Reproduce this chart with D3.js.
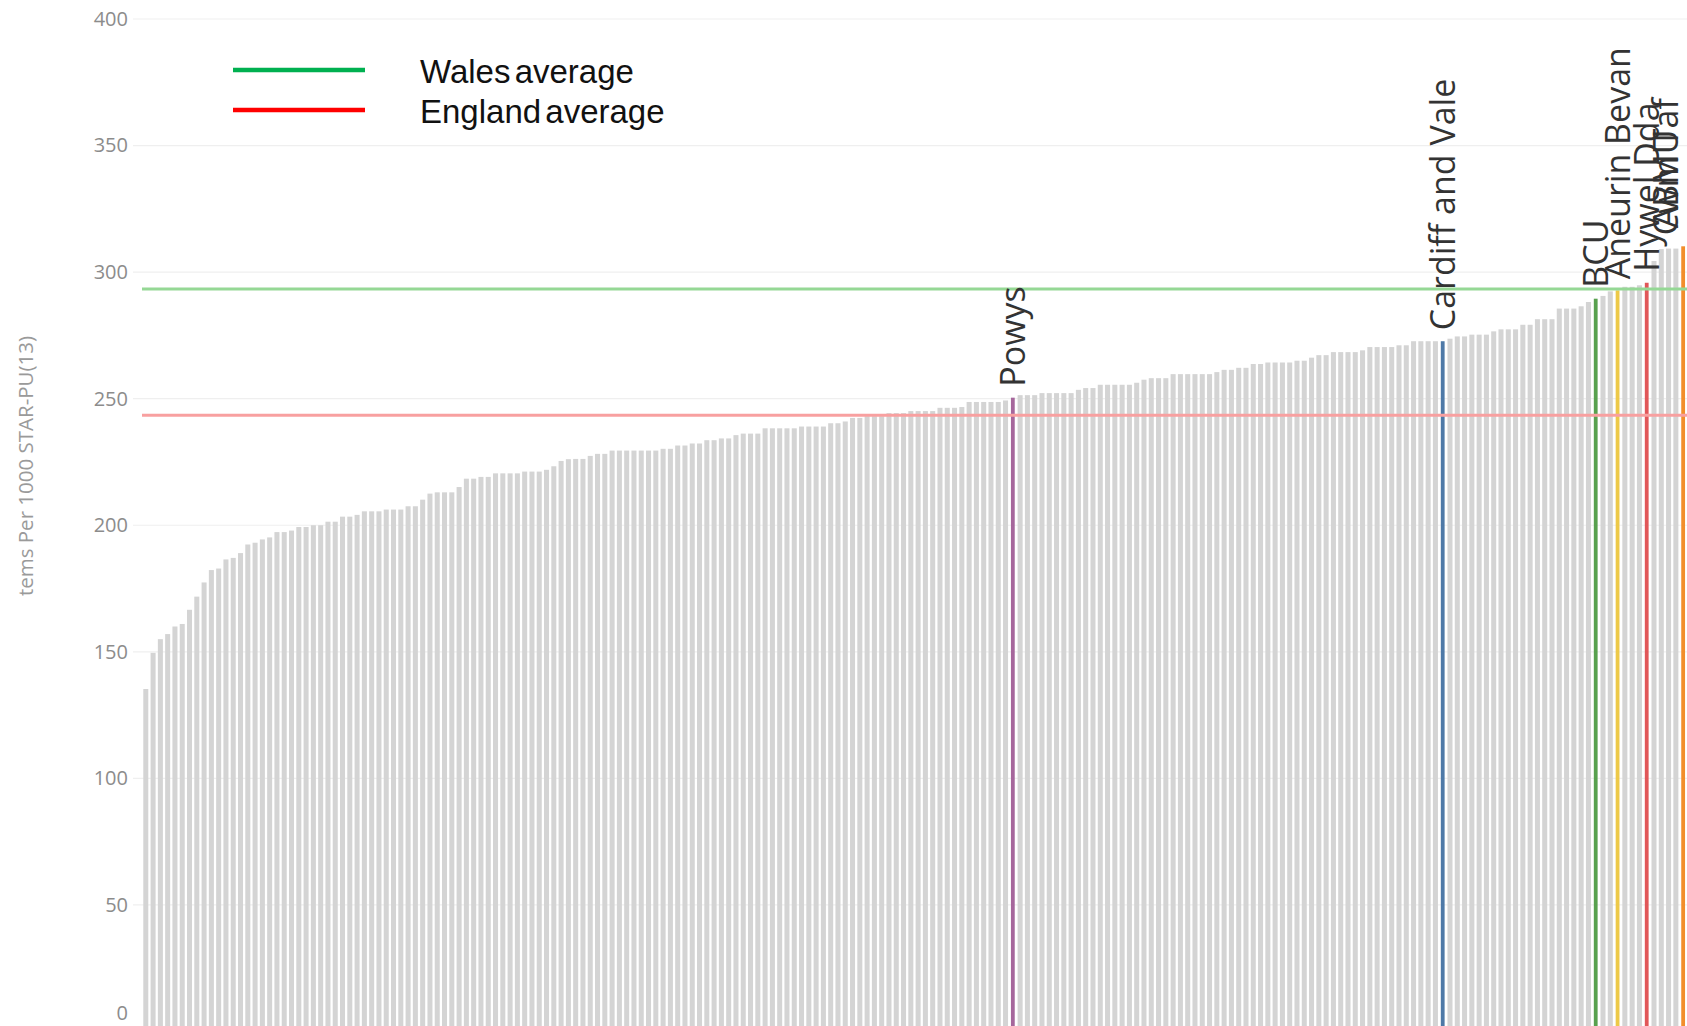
<!DOCTYPE html>
<html>
<head>
<meta charset="utf-8">
<script src="https://cdn.jsdelivr.net/npm/d3@7"></script>
<style>
  html, body { margin: 0; padding: 0; background: #fff; overflow: hidden; }
  svg { display: block; }
</style>
</head>
<body>
<svg id="chart" width="1687" height="1026"></svg>
<script>
// ---- data (ranked, ascending) ----
const values = [
  135.3,149.6,155.0,157.0,160.0,161.0,166.6,171.8,177.4,182.3,
  182.9,186.5,187.1,189.0,192.4,193.1,194.4,195.2,197.3,197.3,
  197.9,199.3,199.3,200.0,200.0,201.4,201.4,203.4,203.4,204.1,
  205.5,205.5,205.5,206.2,206.2,206.2,207.5,207.5,210.1,212.5,
  213.0,213.0,213.0,215.1,218.4,218.4,219.1,219.1,220.5,220.5,
  220.5,220.5,221.2,221.2,221.2,221.9,223.3,225.4,226.1,226.2,
  226.2,227.4,228.2,228.2,229.5,229.5,229.5,229.5,229.5,229.5,
  229.5,230.2,230.2,231.5,231.5,232.3,232.3,233.6,233.6,234.3,
  234.3,235.6,236.2,236.2,236.2,238.3,238.3,238.3,238.3,238.3,
  239.0,239.0,239.0,239.0,240.3,240.3,241.0,242.4,242.4,243.1,
  243.1,243.1,244.3,244.3,244.3,245.1,245.1,245.1,245.1,246.4,
  246.4,246.4,246.7,248.7,248.7,248.7,248.7,248.7,249.3,250.4,
  251.4,251.4,251.4,252.2,252.2,252.2,252.2,252.2,253.5,254.2,
  254.2,255.5,255.5,255.5,255.5,255.5,256.3,257.5,258.1,258.1,
  258.1,259.7,259.7,259.7,259.7,259.7,259.7,260.5,261.4,261.4,
  262.2,262.2,263.7,263.7,264.3,264.3,264.3,264.3,265.0,265.0,
  266.2,267.2,267.2,268.4,268.4,268.4,268.4,269.1,270.4,270.4,
  270.4,270.4,271.1,271.1,272.7,272.7,272.7,272.7,272.7,273.7,
  274.6,274.6,275.3,275.3,275.3,276.6,277.4,277.4,277.4,279.2,
  279.2,281.4,281.4,281.4,285.6,285.6,285.6,286.5,288.2,289.5,
  290.6,292.4,292.8,294.2,294.2,294.8,295.8,304.4,309.1,309.3,
  309.3,310.2,313.0
];
const categories = values.map((v, i) => i + 1);   // rank of each area

const highlightRanks  = [120, 179, 200, 203, 207, 212, 213];
const highlightNames  = ["Powys", "Cardiff and Vale", "BCU", "Aneurin Bevan", "Hywel Dda", "Cwm Taf", "ABMU"];
const highlightColors = ["#a6679c", "#4e79a7", "#59a14f", "#edc948", "#e15759", "#f28e2b", "#f28e2b"];

const refNames  = ["Wales average", "England average"];
const refValues = [293.3, 243.5];
const refColors = ["#00b050", "#ff0000"];
const refLineColors = ["#95d895", "#f8a0a0"];

const yTicks = [0, 50, 100, 150, 200, 250, 300, 350, 400];
const yTitle = "tems Per 1000 STAR-PU(13)";

// ---- layout ----
const W = 1687, H = 1026;
const svg = d3.select("#chart");

const step = 7.286;
const x0 = 145.8 - step / 2;
const x = d3.scaleBand()
  .domain(categories)
  .range([x0, x0 + step * categories.length])
  .paddingInner(0.31)
  .paddingOuter(0.155);

const y = d3.scaleLinear().domain([0, 400]).range([1031.5, 19]);

// gridlines
svg.append("g")
  .selectAll("line")
  .data(yTicks)
  .join("line")
  .attr("x1", 133).attr("x2", W)
  .attr("y1", d => y(d)).attr("y2", d => y(d))
  .attr("stroke", "#efefef").attr("stroke-width", 1.2);

// y axis labels
const axis = d3.axisLeft(y).tickValues(yTicks).tickSize(0).tickPadding(0);
const gAxis = svg.append("g").attr("transform", "translate(128,0)").call(axis);
gAxis.select(".domain").remove();
gAxis.selectAll("text")
  .attr("font-family", "'Open Sans', sans-serif")
  .attr("font-size", 20)
  .attr("fill", "#8c8c8c");
// keep the zero label inside the visible view
gAxis.selectAll(".tick")
  .filter(d => d === 0)
  .attr("transform", `translate(0,${Math.min(y(0), H - 12)})`);

// y title
svg.append("text")
  .attr("transform", "translate(33,466) rotate(-90)")
  .attr("text-anchor", "middle")
  .attr("font-family", "'Open Sans', sans-serif")
  .attr("font-size", 20.5)
  .attr("fill", "#9a9a9a")
  .text(yTitle);

// bars
const hiSet = new Set(highlightRanks);
svg.append("g")
  .selectAll("rect")
  .data(categories.filter(c => !hiSet.has(c)))
  .join("rect")
  .attr("x", c => x(c))
  .attr("width", x.bandwidth())
  .attr("y", c => y(values[c - 1]))
  .attr("height", c => y(0) - y(values[c - 1]))
  .attr("fill", "#d4d4d4");

const hiW = 3.8;
svg.append("g")
  .selectAll("rect")
  .data(highlightRanks)
  .join("rect")
  .attr("x", c => x(c) + x.bandwidth() / 2 - hiW / 2)
  .attr("width", hiW)
  .attr("y", c => y(values[c - 1]))
  .attr("height", c => y(0) - y(values[c - 1]))
  .attr("fill", (c, i) => highlightColors[i]);

// reference lines
svg.append("g")
  .selectAll("line")
  .data(refValues)
  .join("line")
  .attr("x1", 142).attr("x2", W)
  .attr("y1", d => y(d)).attr("y2", d => y(d))
  .attr("stroke", (d, i) => refLineColors[i])
  .attr("stroke-width", 3);

// highlight labels (rotated), kept inside the view at the right edge
svg.append("g")
  .selectAll("text")
  .data(highlightRanks)
  .join("text")
  .attr("transform", c => {
    const cx = Math.min(x(c) + x.bandwidth() / 2 + 12, W - 9);
    const cy = y(values[c - 1]) - 11;
    return `translate(${cx},${cy}) rotate(-90)`;
  })
  .attr("font-family", "'Open Sans', sans-serif")
  .attr("font-size", 34)
  .attr("fill", "#333")
  .text((c, i) => highlightNames[i]);

// legend
const leg = svg.append("g");
const legY = [70, 110];
leg.selectAll("line")
  .data(refNames)
  .join("line")
  .attr("x1", 233).attr("x2", 365)
  .attr("y1", (d, i) => legY[i]).attr("y2", (d, i) => legY[i])
  .attr("stroke", (d, i) => refColors[i])
  .attr("stroke-width", 4.5);
leg.selectAll("text")
  .data(refNames)
  .join("text")
  .attr("x", 420)
  .attr("y", (d, i) => legY[i] + 13)
  .attr("font-family", "'Liberation Sans', Arial, sans-serif")
  .attr("font-size", 33)
  .attr("word-spacing", -5)
  .attr("fill", "#111")
  .text(d => d);
</script>
</body>
</html>
